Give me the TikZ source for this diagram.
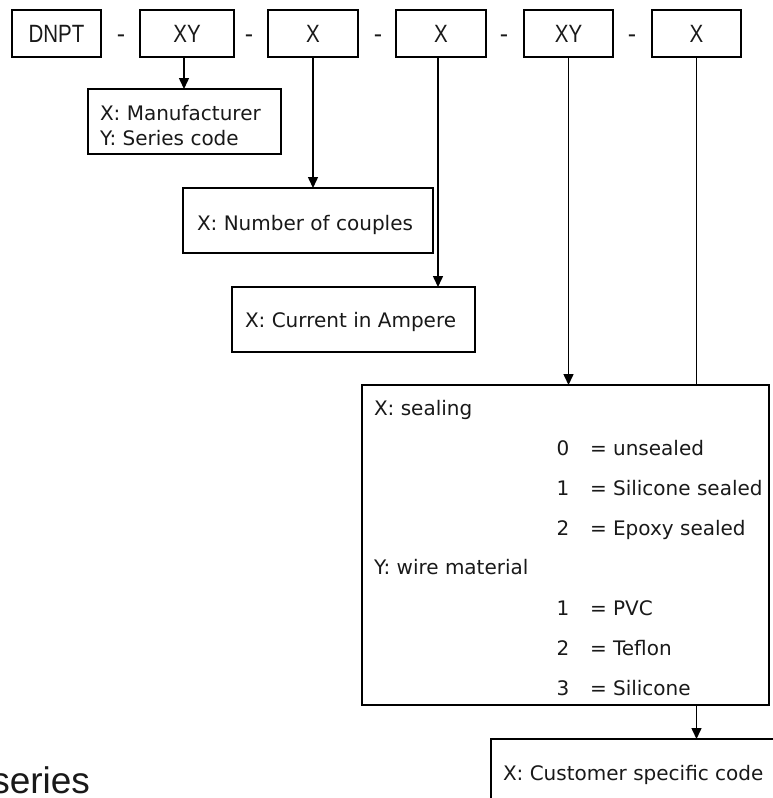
\documentclass[tikz,border=0pt]{standalone}
\usepackage{fontspec}
\setmainfont{DejaVu Sans}
\newfontfamily\topfont{Liberation Sans}
\usetikzlibrary{arrows.meta}
\begin{document}
\begin{tikzpicture}[x=1pt,y=-1pt,
  every node/.style={inner sep=0pt, outer sep=0pt, text=black!90},
  conn/.style={line width=1.5pt},
  arr/.style={line width=1.5pt,-{Triangle[length=11pt,width=10pt]}},
  topbox/.style={draw,line width=1.5pt,minimum height=47pt,font=\topfont\fontsize{25}{28}\selectfont},
  dashsym/.style={font=\topfont\fontsize{25}{28}\selectfont, anchor=base},
  infobox/.style={draw,line width=1.5pt,anchor=north west},
  txt/.style={font=\fontsize{20}{24}\selectfont, anchor=base west},
  num/.style={font=\fontsize{20}{24}\selectfont, anchor=base},
]
\useasboundingbox (0,0) rectangle (773,798);
\clip (0,0) rectangle (773,798);

% top row
\node[topbox,minimum width=89pt] (b1) at (56.5,33.5) {\scalebox{0.82}[1]{DNPT}};
\node[topbox,minimum width=94pt] (b2) at (187,33.5) {\scalebox{0.82}[1]{XY}};
\node[topbox,minimum width=90pt] (b3) at (313,33.5) {\scalebox{0.82}[1]{X}};
\node[topbox,minimum width=90pt] (b4) at (441,33.5) {\scalebox{0.82}[1]{X}};
\node[topbox,minimum width=89pt] (b5) at (568.5,33.5) {\scalebox{0.82}[1]{XY}};
\node[topbox,minimum width=89pt] (b6) at (696.5,33.5) {\scalebox{0.82}[1]{X}};
\node[dashsym] (d1) at (121,42) {-};
\node[dashsym] (d2) at (249,42) {-};
\node[dashsym] (d3) at (378,42) {-};
\node[dashsym] (d4) at (504,42) {-};
\node[dashsym] (d5) at (632,42) {-};

% boxes
\node[infobox,minimum width=193pt,minimum height=65pt] (man) at (88,89) {};
\node[infobox,minimum width=250pt,minimum height=65pt] (noc) at (183,188) {};
\node[infobox,minimum width=243pt,minimum height=65pt] (cur) at (232,287) {};
\node[infobox,minimum width=407pt,minimum height=320pt] (big) at (362,385) {};
\node[infobox,minimum width=300pt,minimum height=80pt] (cust) at (491,739) {};

% texts
\node[txt] (man1) at (100,120) {X: Manufacturer};
\node[txt] (man2) at (100,145) {Y: Series code};
\node[txt] (noct) at (197,230) {X: Number of couples};
\node[txt] (curt) at (245,327) {X: Current in Ampere};
\node[txt] (sealt) at (374,415) {X: sealing};
\node[num] (s0) at (563,455) {0};
\node[txt] (s0t) at (590,455) {= unsealed};
\node[num] (s1) at (563,495) {1};
\node[txt] (s1t) at (590,495) {= Silicone sealed};
\node[num] (s2) at (563,535) {2};
\node[txt] (s2t) at (590,535) {= Epoxy sealed};
\node[txt] (wiret) at (374,574) {Y: wire material};
\node[num] (w1) at (563,615) {1};
\node[txt] (w1t) at (590,615) {= PVC};
\node[num] (w2) at (563,655) {2};
\node[txt] (w2t) at (590,655) {= Teflon};
\node[num] (w3) at (563,695) {3};
\node[txt] (w3t) at (590,695) {= Silicone};
\node[txt] (custt) at (503,780) {X: Customer specific code};
\node[font=\topfont\fontsize{37}{40}\selectfont, anchor=base east] (series) at (90,793) {series};

% connectors
\draw[arr] ([xshift=-3pt]b2.south) -- ([xshift=-3pt]b2.south |- man.north);
\draw[arr] (b3.south) -- (b3.south |- noc.north);
\draw[arr] ([xshift=-3pt]b4.south) -- ([xshift=-3pt]b4.south |- cur.north);
\draw[arr] (b5.south) -- (b5.south |- big.north);
\draw[conn] (b6.south) -- (b6.south |- big.north);
\draw[arr] (b6.south |- big.south) -- (b6.south |- cust.north);
\end{tikzpicture}
\end{document}
